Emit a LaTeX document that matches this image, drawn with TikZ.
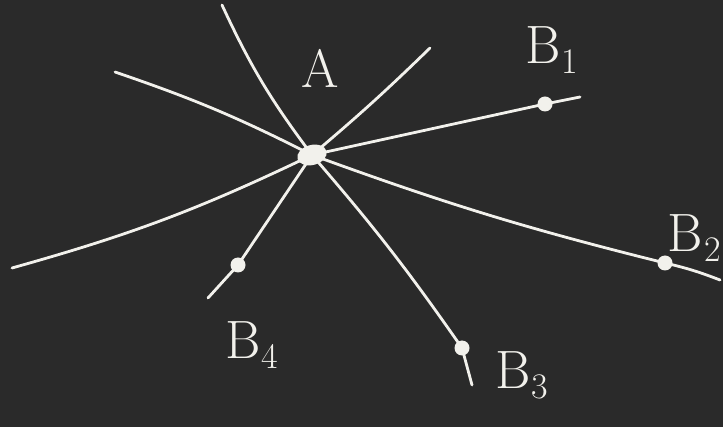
\documentclass[tikz,border=0pt]{standalone}
\usepackage{xcolor}
\usepackage{tikz}
\usetikzlibrary{shapes.geometric}
\definecolor{board}{HTML}{2A2A2A}
\definecolor{chalk}{HTML}{F2F1EC}
\newcommand{\Bsub}[1]{B\kern1pt\raisebox{-10pt}{\fontsize{36}{40}\selectfont #1}}

\begin{document}
\begin{tikzpicture}[x=1pt,y=-1pt,
 chalkline/.style={draw=chalk,line width=2.8pt,line cap=round},
 pt/.style={circle,fill=chalk,inner sep=0pt,minimum size=15pt},
 lbl/.style={text=chalk,font=\fontsize{54}{60}\selectfont,inner sep=1pt}
]
\fill[board] (0,0) rectangle (723,427);
\useasboundingbox (0,0) rectangle (723,427);
% centre and line ends
\node[ellipse,fill=chalk,inner sep=0pt,minimum width=30pt,minimum height=20pt,rotate=15] (A) at (312,155) {};
\coordinate (t1) at (222,5);
\coordinate (e1) at (472,385);
\coordinate (t2) at (430,48);
\coordinate (e2) at (208,298);
\coordinate (t3) at (115,72);
\coordinate (e3) at (720,280);
\coordinate (t4) at (12,268);
\coordinate (e4) at (580,97);
% points
\node[pt] (B1) at (545,104) {};
\node[pt] (B2) at (665,263) {};
\node[pt] (B3) at (462,348) {};
\node[pt] (B4) at (238,265) {};
% lines through A
\draw[chalkline] (t1) to[bend right=6] (A.center) to[bend left=3] (B3.center) -- (e1);
\draw[chalkline] (t2) to[bend left=2] (A.center) -- (B4.center) -- (e2);
\draw[chalkline] (t3) to[bend left=4] (A.center) to[bend right=3] (B2.center) to[bend left=4] (e3);
\draw[chalkline] (t4) to[bend right=5] (A.center) -- (B1.center) -- (e4);
% labels
\node[lbl] at (320,68) {A};
\node[lbl] at (552,50) {\Bsub{1}};
\node[lbl,anchor=east] at (722,238) {\Bsub{2}};
\node[lbl] at (522,375) {\Bsub{3}};
\node[lbl] at (252,345) {\Bsub{4}};
\end{tikzpicture}
\end{document}
